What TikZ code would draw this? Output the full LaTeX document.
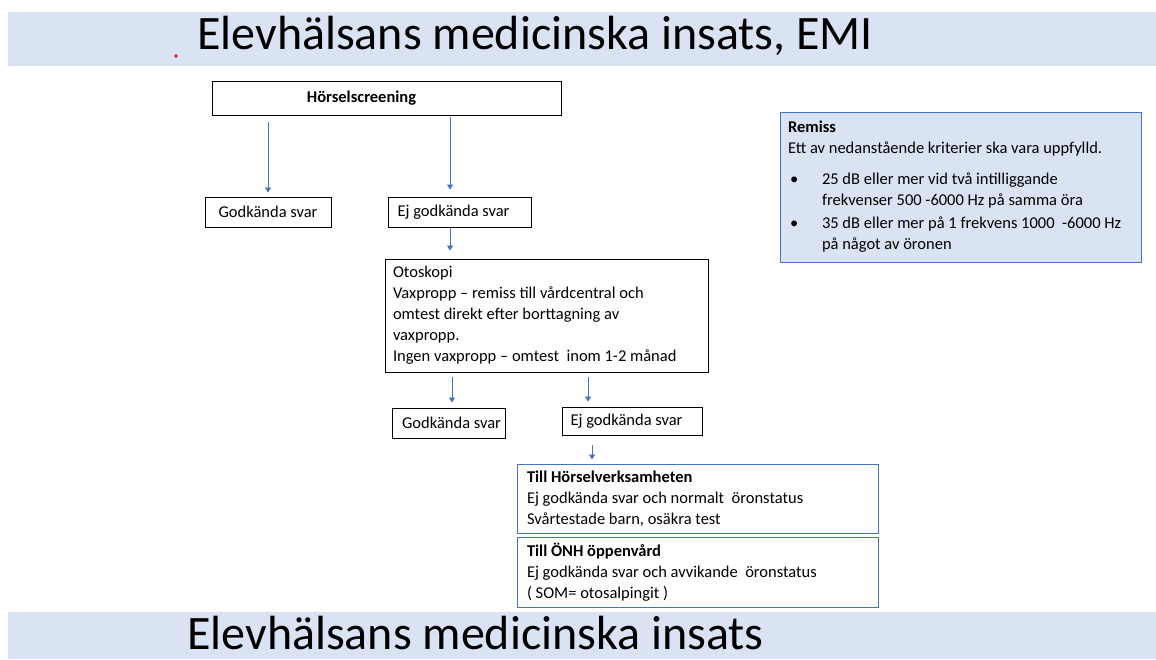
\documentclass[tikz,border=0pt]{standalone}
\usepackage{fontspec}
\setmainfont{Carlito}
\usepackage{xcolor}
\usepackage{tikz}
\usetikzlibrary{arrows.meta}
\definecolor{emiblue}{HTML}{4472C4}
\definecolor{emifill}{HTML}{DAE3F3}

\tikzset{
  ruta/.style={draw=black, line width=0.9pt, rectangle, inner sep=0pt, font=\fontsize{16.5}{21}\selectfont},
  blaruta/.style={draw=emiblue, line width=0.9pt, rectangle, inner ysep=0pt, align=flush left, font=\fontsize{16.5}{21}\selectfont},
  pil/.style={draw=emiblue, line width=0.7pt, -{Triangle[width=6pt,length=5pt]}},
  rubrik/.style={anchor=base west, inner sep=0pt, font=\fontsize{48}{56}\selectfont},
  banner/.style={fill=emifill}
}

\begin{document}
\begin{tikzpicture}[x=1pt, y=-1pt]
    \useasboundingbox (0,0) rectangle (1156,660);

    %rubriker
    \fill[banner] (8,12) rectangle (1156,66);
    \node[rubrik] (titel) at (197,50) {Elevhälsans medicinska insats, EMI};
    \fill[red] (176,56) circle (1.8);
    \fill[banner] (8,612) rectangle (1156,659);
    \node[rubrik] (fot) at (187,649) {Elevhälsans medicinska insats};

    %screening
    \node[ruta, minimum width=349, minimum height=34] (hs) at (386.5,98) {\hspace*{-50pt}\textbf{Hörselscreening}};
    \node[ruta, minimum width=126, minimum height=30] (gk1) at (268,212) {Godkända svar};
    \node[ruta, minimum width=143, minimum height=30] (ej1) at (459.5,212) {\hspace*{-12pt}Ej godkända svar};
    \draw[pil, shorten <=7pt, shorten >=4pt] ([xshift=-118.5pt]hs.south) -- (gk1.north);
    \draw[pil, shorten <=2pt, shorten >=7pt] ([xshift=63.5pt]hs.south) -- ([xshift=-9.5pt]ej1.north);

    %otoskopi
    \node[ruta, minimum height=113, text width=307pt, inner xsep=8pt, align=flush left] (oto) at (546.5,315.5)
      {Otoskopi\\
       Vaxpropp – remiss till vårdcentral och\\
       omtest direkt efter borttagning av\\
       vaxpropp.\\
       Ingen vaxpropp – omtest~ inom 1-2 månad};
    \draw[pil, shorten <=1pt, shorten >=8pt] ([xshift=-9.5pt]ej1.south) -- ([xshift=-96.5pt]oto.north);

    \node[ruta, minimum width=113, minimum height=30] (gk2) at (448.5,423) {\hspace*{6pt}Godkända svar};
    \node[ruta, minimum width=140, minimum height=28] (ej2) at (632,421) {\hspace*{-11pt}Ej godkända svar};
    \draw[pil, shorten <=5pt, shorten >=5pt] ([xshift=-94.5pt]oto.south) -- ([xshift=3.5pt]gk2.north);
    \draw[pil, shorten <=5pt, shorten >=5pt] ([xshift=41.5pt]oto.south) -- ([xshift=-44pt]ej2.north);

    %remisser
    \node[blaruta, minimum height=69, text width=341pt, inner xsep=10pt] (hv) at (697.5,498.5)
      {\textbf{Till Hörselverksamheten}\\
       Ej godkända svar och normalt~ öronstatus\\
       Svårtestade barn, osäkra test};
    \node[blaruta, minimum height=70, text width=341pt, inner xsep=10pt] (onh) at (697.5,572)
      {\textbf{Till ÖNH öppenvård}\\
       Ej godkända svar och avvikande~ öronstatus\\
       ( SOM= otosalpingit )};
    \draw[pil, shorten <=10pt, shorten >=4pt] ([xshift=-40pt]ej2.south) -- ([xshift=-105.5pt]hv.north);

    %kriterier
    \node[blaruta, fill=emifill, minimum height=150, text width=345pt, inner xsep=8pt] (remiss) at (960.5,187)
      {\textbf{Remiss}\\
       Ett av nedanstående kriterier ska vara uppfylld.\\[10pt]
       \makebox[34pt][l]{\hspace{2pt}\textbullet}25 dB eller mer vid två intilliggande\\
       \hspace*{34pt}frekvenser 500 -6000 Hz på samma öra\\[2pt]
       \makebox[34pt][l]{\hspace{2pt}\textbullet}35 dB eller mer på 1 frekvens 1000~ -6000 Hz\\
       \hspace*{34pt}på något av öronen};

\end{tikzpicture}
\end{document}
